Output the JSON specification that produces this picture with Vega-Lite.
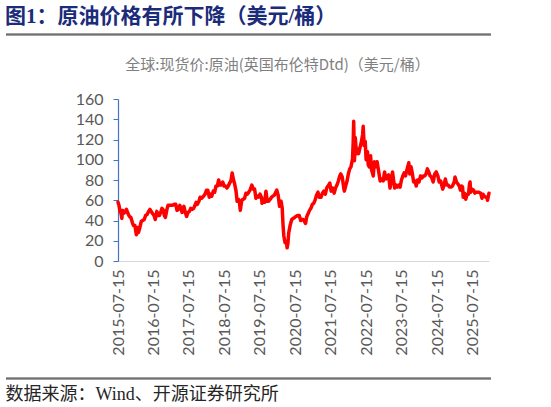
{
  "$schema": "https://vega.github.io/schema/vega-lite/v6.json",
  "description": "Brent Dtd spot price, USD/bbl",
  "background": "white",
  "padding": {"left": 5, "top": 5, "right": 5, "bottom": 4},
  "title": {
    "text": "图1：原油价格有所下降（美元/桶）",
    "anchor": "start",
    "font": "Liberation Serif, Noto Sans CJK SC",
    "fontSize": 21,
    "fontWeight": "bold",
    "color": "#1B2C7A",
    "offset": 6.5
  },
  "config": {"view": {"stroke": "transparent"}},
  "spacing": 21,
  "datasets": {
    "brent": [
      {"date": "2015-07-15", "price": 58},
      {"date": "2015-07-25", "price": 55},
      {"date": "2015-08-05", "price": 49},
      {"date": "2015-08-15", "price": 47},
      {"date": "2015-08-24", "price": 42},
      {"date": "2015-08-31", "price": 50},
      {"date": "2015-09-10", "price": 47},
      {"date": "2015-09-25", "price": 48},
      {"date": "2015-10-10", "price": 51},
      {"date": "2015-10-25", "price": 47},
      {"date": "2015-11-10", "price": 44},
      {"date": "2015-11-25", "price": 43},
      {"date": "2015-12-10", "price": 38},
      {"date": "2015-12-22", "price": 35},
      {"date": "2016-01-05", "price": 35},
      {"date": "2016-01-20", "price": 26},
      {"date": "2016-02-01", "price": 33},
      {"date": "2016-02-11", "price": 28},
      {"date": "2016-02-25", "price": 33},
      {"date": "2016-03-10", "price": 39},
      {"date": "2016-03-25", "price": 40},
      {"date": "2016-04-10", "price": 41},
      {"date": "2016-04-25", "price": 45},
      {"date": "2016-05-10", "price": 46},
      {"date": "2016-05-25", "price": 49},
      {"date": "2016-06-08", "price": 51},
      {"date": "2016-06-20", "price": 49},
      {"date": "2016-07-05", "price": 47},
      {"date": "2016-07-20", "price": 45},
      {"date": "2016-08-02", "price": 41},
      {"date": "2016-08-18", "price": 49},
      {"date": "2016-09-01", "price": 45},
      {"date": "2016-09-15", "price": 45},
      {"date": "2016-09-30", "price": 49},
      {"date": "2016-10-10", "price": 52},
      {"date": "2016-10-25", "price": 50},
      {"date": "2016-11-03", "price": 45},
      {"date": "2016-11-14", "price": 43},
      {"date": "2016-11-30", "price": 51},
      {"date": "2016-12-12", "price": 55},
      {"date": "2016-12-28", "price": 55},
      {"date": "2017-01-12", "price": 55},
      {"date": "2017-01-25", "price": 55},
      {"date": "2017-02-15", "price": 56},
      {"date": "2017-03-01", "price": 56},
      {"date": "2017-03-14", "price": 50},
      {"date": "2017-03-28", "price": 51},
      {"date": "2017-04-12", "price": 55},
      {"date": "2017-04-26", "price": 51},
      {"date": "2017-05-05", "price": 48},
      {"date": "2017-05-24", "price": 54},
      {"date": "2017-06-07", "price": 48},
      {"date": "2017-06-21", "price": 44},
      {"date": "2017-07-05", "price": 48},
      {"date": "2017-07-20", "price": 49},
      {"date": "2017-08-02", "price": 52},
      {"date": "2017-08-18", "price": 51},
      {"date": "2017-09-01", "price": 52},
      {"date": "2017-09-15", "price": 55},
      {"date": "2017-09-27", "price": 58},
      {"date": "2017-10-10", "price": 56},
      {"date": "2017-10-26", "price": 59},
      {"date": "2017-11-07", "price": 63},
      {"date": "2017-11-22", "price": 62},
      {"date": "2017-12-12", "price": 64},
      {"date": "2017-12-28", "price": 66},
      {"date": "2018-01-12", "price": 70},
      {"date": "2018-01-25", "price": 70},
      {"date": "2018-02-09", "price": 63},
      {"date": "2018-02-22", "price": 66},
      {"date": "2018-03-07", "price": 64},
      {"date": "2018-03-22", "price": 69},
      {"date": "2018-04-06", "price": 68},
      {"date": "2018-04-19", "price": 74},
      {"date": "2018-05-03", "price": 74},
      {"date": "2018-05-17", "price": 80},
      {"date": "2018-05-29", "price": 75},
      {"date": "2018-06-14", "price": 75},
      {"date": "2018-06-28", "price": 78},
      {"date": "2018-07-12", "price": 74},
      {"date": "2018-07-26", "price": 74},
      {"date": "2018-08-10", "price": 72},
      {"date": "2018-08-24", "price": 74},
      {"date": "2018-09-07", "price": 77},
      {"date": "2018-09-20", "price": 79},
      {"date": "2018-10-03", "price": 87},
      {"date": "2018-10-15", "price": 81},
      {"date": "2018-10-29", "price": 76},
      {"date": "2018-11-12", "price": 69},
      {"date": "2018-11-23", "price": 59},
      {"date": "2018-12-06", "price": 61},
      {"date": "2018-12-18", "price": 57},
      {"date": "2018-12-26", "price": 50},
      {"date": "2019-01-10", "price": 60},
      {"date": "2019-01-25", "price": 61},
      {"date": "2019-02-08", "price": 62},
      {"date": "2019-02-22", "price": 67},
      {"date": "2019-03-08", "price": 66},
      {"date": "2019-03-22", "price": 68},
      {"date": "2019-04-05", "price": 70},
      {"date": "2019-04-24", "price": 75},
      {"date": "2019-05-08", "price": 71},
      {"date": "2019-05-22", "price": 71},
      {"date": "2019-06-05", "price": 62},
      {"date": "2019-06-20", "price": 64},
      {"date": "2019-07-03", "price": 63},
      {"date": "2019-07-17", "price": 66},
      {"date": "2019-08-01", "price": 63},
      {"date": "2019-08-07", "price": 57},
      {"date": "2019-08-20", "price": 60},
      {"date": "2019-09-03", "price": 58},
      {"date": "2019-09-16", "price": 69},
      {"date": "2019-09-30", "price": 59},
      {"date": "2019-10-14", "price": 59},
      {"date": "2019-10-30", "price": 61},
      {"date": "2019-11-13", "price": 63},
      {"date": "2019-11-27", "price": 64},
      {"date": "2019-12-11", "price": 65},
      {"date": "2019-12-27", "price": 68},
      {"date": "2020-01-06", "price": 70},
      {"date": "2020-01-20", "price": 65},
      {"date": "2020-02-03", "price": 54},
      {"date": "2020-02-19", "price": 59},
      {"date": "2020-03-02", "price": 52},
      {"date": "2020-03-10", "price": 36},
      {"date": "2020-03-18", "price": 25},
      {"date": "2020-03-31", "price": 18},
      {"date": "2020-04-15", "price": 19},
      {"date": "2020-04-21", "price": 13},
      {"date": "2020-04-29", "price": 17},
      {"date": "2020-05-08", "price": 28},
      {"date": "2020-05-22", "price": 35},
      {"date": "2020-06-08", "price": 41},
      {"date": "2020-06-22", "price": 42},
      {"date": "2020-07-08", "price": 43},
      {"date": "2020-07-22", "price": 44},
      {"date": "2020-08-07", "price": 45},
      {"date": "2020-08-24", "price": 45},
      {"date": "2020-09-08", "price": 40},
      {"date": "2020-09-22", "price": 41},
      {"date": "2020-10-06", "price": 41},
      {"date": "2020-10-28", "price": 37},
      {"date": "2020-11-10", "price": 44},
      {"date": "2020-11-24", "price": 47},
      {"date": "2020-12-08", "price": 50},
      {"date": "2020-12-22", "price": 52},
      {"date": "2021-01-06", "price": 56},
      {"date": "2021-01-20", "price": 57},
      {"date": "2021-02-03", "price": 60},
      {"date": "2021-02-18", "price": 65},
      {"date": "2021-03-05", "price": 68},
      {"date": "2021-03-19", "price": 63},
      {"date": "2021-04-06", "price": 63},
      {"date": "2021-04-20", "price": 67},
      {"date": "2021-05-05", "price": 69},
      {"date": "2021-05-20", "price": 66},
      {"date": "2021-06-03", "price": 72},
      {"date": "2021-06-17", "price": 74},
      {"date": "2021-07-05", "price": 77},
      {"date": "2021-07-19", "price": 69},
      {"date": "2021-08-04", "price": 72},
      {"date": "2021-08-19", "price": 67},
      {"date": "2021-09-02", "price": 72},
      {"date": "2021-09-17", "price": 75},
      {"date": "2021-10-01", "price": 79},
      {"date": "2021-10-15", "price": 84},
      {"date": "2021-10-26", "price": 86},
      {"date": "2021-11-10", "price": 83},
      {"date": "2021-11-26", "price": 72},
      {"date": "2021-12-02", "price": 69},
      {"date": "2021-12-15", "price": 74},
      {"date": "2021-12-30", "price": 79},
      {"date": "2022-01-12", "price": 86},
      {"date": "2022-01-26", "price": 91},
      {"date": "2022-02-08", "price": 93},
      {"date": "2022-02-24", "price": 101},
      {"date": "2022-03-03", "price": 118},
      {"date": "2022-03-08", "price": 138},
      {"date": "2022-03-16", "price": 99},
      {"date": "2022-03-24", "price": 122},
      {"date": "2022-04-06", "price": 106},
      {"date": "2022-04-14", "price": 111},
      {"date": "2022-04-28", "price": 106},
      {"date": "2022-05-12", "price": 112},
      {"date": "2022-05-25", "price": 117},
      {"date": "2022-06-08", "price": 125},
      {"date": "2022-06-14", "price": 133},
      {"date": "2022-06-24", "price": 114},
      {"date": "2022-07-05", "price": 118},
      {"date": "2022-07-14", "price": 100},
      {"date": "2022-07-28", "price": 108},
      {"date": "2022-08-05", "price": 95},
      {"date": "2022-08-16", "price": 93},
      {"date": "2022-08-29", "price": 104},
      {"date": "2022-09-08", "price": 90},
      {"date": "2022-09-26", "price": 84},
      {"date": "2022-10-07", "price": 98},
      {"date": "2022-10-20", "price": 93},
      {"date": "2022-11-04", "price": 98},
      {"date": "2022-11-18", "price": 90},
      {"date": "2022-12-06", "price": 79},
      {"date": "2022-12-20", "price": 81},
      {"date": "2023-01-06", "price": 79},
      {"date": "2023-01-20", "price": 88},
      {"date": "2023-02-03", "price": 81},
      {"date": "2023-02-17", "price": 84},
      {"date": "2023-03-03", "price": 85},
      {"date": "2023-03-17", "price": 72},
      {"date": "2023-03-30", "price": 79},
      {"date": "2023-04-12", "price": 88},
      {"date": "2023-04-27", "price": 77},
      {"date": "2023-05-04", "price": 72},
      {"date": "2023-05-19", "price": 75},
      {"date": "2023-06-01", "price": 73},
      {"date": "2023-06-15", "price": 75},
      {"date": "2023-06-29", "price": 73},
      {"date": "2023-07-13", "price": 80},
      {"date": "2023-07-27", "price": 84},
      {"date": "2023-08-10", "price": 87},
      {"date": "2023-08-24", "price": 84},
      {"date": "2023-09-07", "price": 90},
      {"date": "2023-09-27", "price": 97},
      {"date": "2023-10-06", "price": 86},
      {"date": "2023-10-20", "price": 93},
      {"date": "2023-11-03", "price": 86},
      {"date": "2023-11-16", "price": 78},
      {"date": "2023-12-01", "price": 79},
      {"date": "2023-12-12", "price": 74},
      {"date": "2023-12-27", "price": 80},
      {"date": "2024-01-10", "price": 78},
      {"date": "2024-01-26", "price": 84},
      {"date": "2024-02-09", "price": 82},
      {"date": "2024-02-23", "price": 84},
      {"date": "2024-03-08", "price": 84},
      {"date": "2024-03-22", "price": 86},
      {"date": "2024-04-05", "price": 91},
      {"date": "2024-04-19", "price": 88},
      {"date": "2024-05-03", "price": 84},
      {"date": "2024-05-17", "price": 83},
      {"date": "2024-06-04", "price": 78},
      {"date": "2024-06-20", "price": 86},
      {"date": "2024-07-05", "price": 88},
      {"date": "2024-07-22", "price": 84},
      {"date": "2024-08-05", "price": 78},
      {"date": "2024-08-20", "price": 79},
      {"date": "2024-09-10", "price": 71},
      {"date": "2024-09-24", "price": 75},
      {"date": "2024-10-07", "price": 81},
      {"date": "2024-10-21", "price": 75},
      {"date": "2024-11-05", "price": 75},
      {"date": "2024-11-19", "price": 73},
      {"date": "2024-12-05", "price": 73},
      {"date": "2024-12-19", "price": 74},
      {"date": "2025-01-07", "price": 78},
      {"date": "2025-01-15", "price": 83},
      {"date": "2025-01-30", "price": 78},
      {"date": "2025-02-14", "price": 76},
      {"date": "2025-02-28", "price": 74},
      {"date": "2025-03-11", "price": 70},
      {"date": "2025-03-26", "price": 74},
      {"date": "2025-04-03", "price": 73},
      {"date": "2025-04-09", "price": 63},
      {"date": "2025-04-22", "price": 67},
      {"date": "2025-05-05", "price": 61},
      {"date": "2025-05-20", "price": 66},
      {"date": "2025-06-03", "price": 66},
      {"date": "2025-06-13", "price": 76},
      {"date": "2025-06-19", "price": 78},
      {"date": "2025-06-25", "price": 68},
      {"date": "2025-07-10", "price": 71},
      {"date": "2025-07-25", "price": 70},
      {"date": "2025-08-07", "price": 67},
      {"date": "2025-08-21", "price": 68},
      {"date": "2025-09-05", "price": 68},
      {"date": "2025-09-19", "price": 68},
      {"date": "2025-10-06", "price": 67},
      {"date": "2025-10-20", "price": 62},
      {"date": "2025-10-30", "price": 66},
      {"date": "2025-11-12", "price": 64},
      {"date": "2025-11-26", "price": 63},
      {"date": "2025-12-08", "price": 63},
      {"date": "2025-12-16", "price": 60},
      {"date": "2025-12-24", "price": 64},
      {"date": "2025-12-31", "price": 67}
    ],
    "edge": [{"pos": 0}, {"pos": 1}]
  },
  "vconcat": [
    {
      "width": 485,
      "height": 1,
      "data": {"name": "edge"},
      "mark": {"type": "rule", "color": "#404040", "strokeWidth": 1},
      "encoding": {
        "y": {"field": "pos", "type": "quantitative", "axis": null}
      }
    },
    {
      "spacing": 21,
      "hconcat": [
        {
          "width": 30,
          "height": 162,
          "data": {"values": []},
          "mark": "point"
        },
        {
          "width": 371,
          "height": 162,
          "data": {"name": "brent"},
          "title": {
            "text": "全球:现货价:原油(英国布伦特Dtd)（美元/桶）",
            "frame": "group",
            "anchor": "middle",
            "dx": -26,
            "offset": 18,
            "font": "Noto Sans CJK SC",
            "fontSize": 15,
            "fontWeight": "normal",
            "color": "#808080"
          },
          "mark": {"type": "line", "color": "#FF0000", "strokeWidth": 3.5, "strokeJoin": "round", "strokeCap": "round"},
          "encoding": {
            "x": {
              "field": "date",
              "type": "temporal",
              "scale": {
                "type": "utc",
                "domain": [
                  {"year": 2015, "month": 7, "date": 15, "utc": true},
                  {"year": 2025, "month": 12, "date": 31, "utc": true}
                ]
              },
              "axis": {
                "title": null,
                "values": [
                  {"year": 2015, "month": 7, "date": 15, "utc": true},
                  {"year": 2016, "month": 7, "date": 15, "utc": true},
                  {"year": 2017, "month": 7, "date": 15, "utc": true},
                  {"year": 2018, "month": 7, "date": 15, "utc": true},
                  {"year": 2019, "month": 7, "date": 15, "utc": true},
                  {"year": 2020, "month": 7, "date": 15, "utc": true},
                  {"year": 2021, "month": 7, "date": 15, "utc": true},
                  {"year": 2022, "month": 7, "date": 15, "utc": true},
                  {"year": 2023, "month": 7, "date": 15, "utc": true},
                  {"year": 2024, "month": 7, "date": 15, "utc": true},
                  {"year": 2025, "month": 7, "date": 15, "utc": true}
                ],
                "format": "%Y-%m-%d",
                "labelAngle": -90,
                "labelFont": "Lato",
                "labelFontSize": 16,
                "labelColor": "#595959",
                "labelPadding": 8,
                "labelOverlap": false,
                "labelFlush": false,
                "ticks": false,
                "grid": false,
                "domainColor": "#D9D9D9",
                "domainWidth": 1.2
              }
            },
            "y": {
              "field": "price",
              "type": "quantitative",
              "scale": {"domain": [0, 160], "nice": false},
              "axis": {
                "title": null,
                "values": [0, 20, 40, 60, 80, 100, 120, 140, 160],
                "labelFont": "Lato",
                "labelFontSize": 16,
                "labelColor": "#595959",
                "labelPadding": 10,
                "tickSize": 5,
                "tickColor": "#4472C4",
                "domainColor": "#4472C4",
                "domainWidth": 1.2,
                "grid": false,
                "minExtent": 60
              }
            }
          }
        }
      ]
    },
    {
      "width": 485,
      "height": 1,
      "data": {"name": "edge"},
      "title": {
        "text": "数据来源：Wind、开源证券研究所",
        "orient": "bottom",
        "anchor": "start",
        "offset": 6,
        "font": "Liberation Serif, Noto Sans CJK SC",
        "fontSize": 18,
        "fontWeight": "normal",
        "color": "#262626"
      },
      "mark": {"type": "rule", "color": "#404040", "strokeWidth": 1},
      "encoding": {
        "y": {"field": "pos", "type": "quantitative", "axis": null}
      }
    }
  ]
}
